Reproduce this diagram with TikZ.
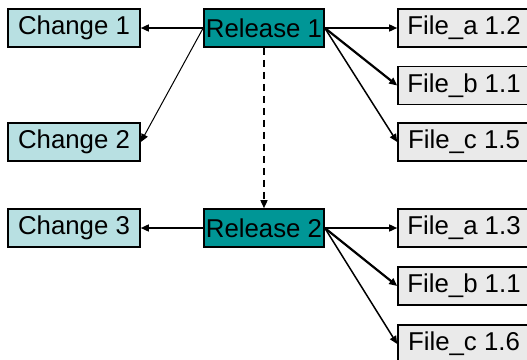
\documentclass[tikz,border=0pt]{standalone}
\usepackage{fontspec}
\setmainfont{Liberation Sans}
\usetikzlibrary{arrows.meta}

\definecolor{relfill}{RGB}{0,150,150}
\definecolor{chgfill}{RGB}{184,224,226}
\definecolor{filefill}{RGB}{234,234,234}

\begin{document}
\begin{tikzpicture}[x=0.5pt, y=-0.5pt,
    box/.style = {draw, line width=0.8pt, minimum height=19pt, inner sep=0pt,
                  font=\fontsize{12.9}{15}\selectfont},
    change/.style = {box, fill=chgfill, minimum width=66pt},
    release/.style = {box, fill=relfill, minimum width=60pt},
    file/.style = {box, fill=filefill, minimum width=66pt},
    arr/.style = {-{Triangle[length=4pt,width=3.5pt]}, line width=0.75pt}]
    \useasboundingbox (0,0) rectangle (527,360);
    \clip (0,0) rectangle (527,360);

    \node[release] (R1) at (264,28) {Release 1};
    \node[release] (R2) at (264,228) {Release 2};

    \node[change] (C1) at (74,28) {Change 1};
    \node[change] (C2) at (74,142) {Change 2};
    \node[change] (C3) at (74,228) {Change 3};

    \node[file] (A1) at (464,28) {File\_a 1.2};
    \node[file] (B1) at (464,85.5) {File\_b 1.1};
    \node[file] (F1) at (464,142) {File\_c 1.5};
    \node[file] (A2) at (464,228) {File\_a 1.3};
    \node[file] (B2) at (464,286) {File\_b 1.1};
    \node[file] (F2) at (464,344) {File\_c 1.6};

    \draw[arr] (R1.west) -- (C1.east);
    \draw[arr, line width=0.5pt] (R1.west) -- (C2.east);
    \draw[arr] (R2.west) -- (C3.east);

    \draw[arr] (R1.east) -- (A1.west);
    \draw[arr, line width=1.1pt] (R1.east) -- (B1.west);
    \draw[arr] (R1.east) -- (F1.west);
    \draw[arr] (R2.east) -- (A2.west);
    \draw[arr, line width=1.1pt] (R2.east) -- (B2.west);
    \draw[arr] (R2.east) -- (F2.west);

    \draw[arr, dash pattern=on 3.5pt off 2.5pt] (R1.south) -- (R2.north);
\end{tikzpicture}
\end{document}
